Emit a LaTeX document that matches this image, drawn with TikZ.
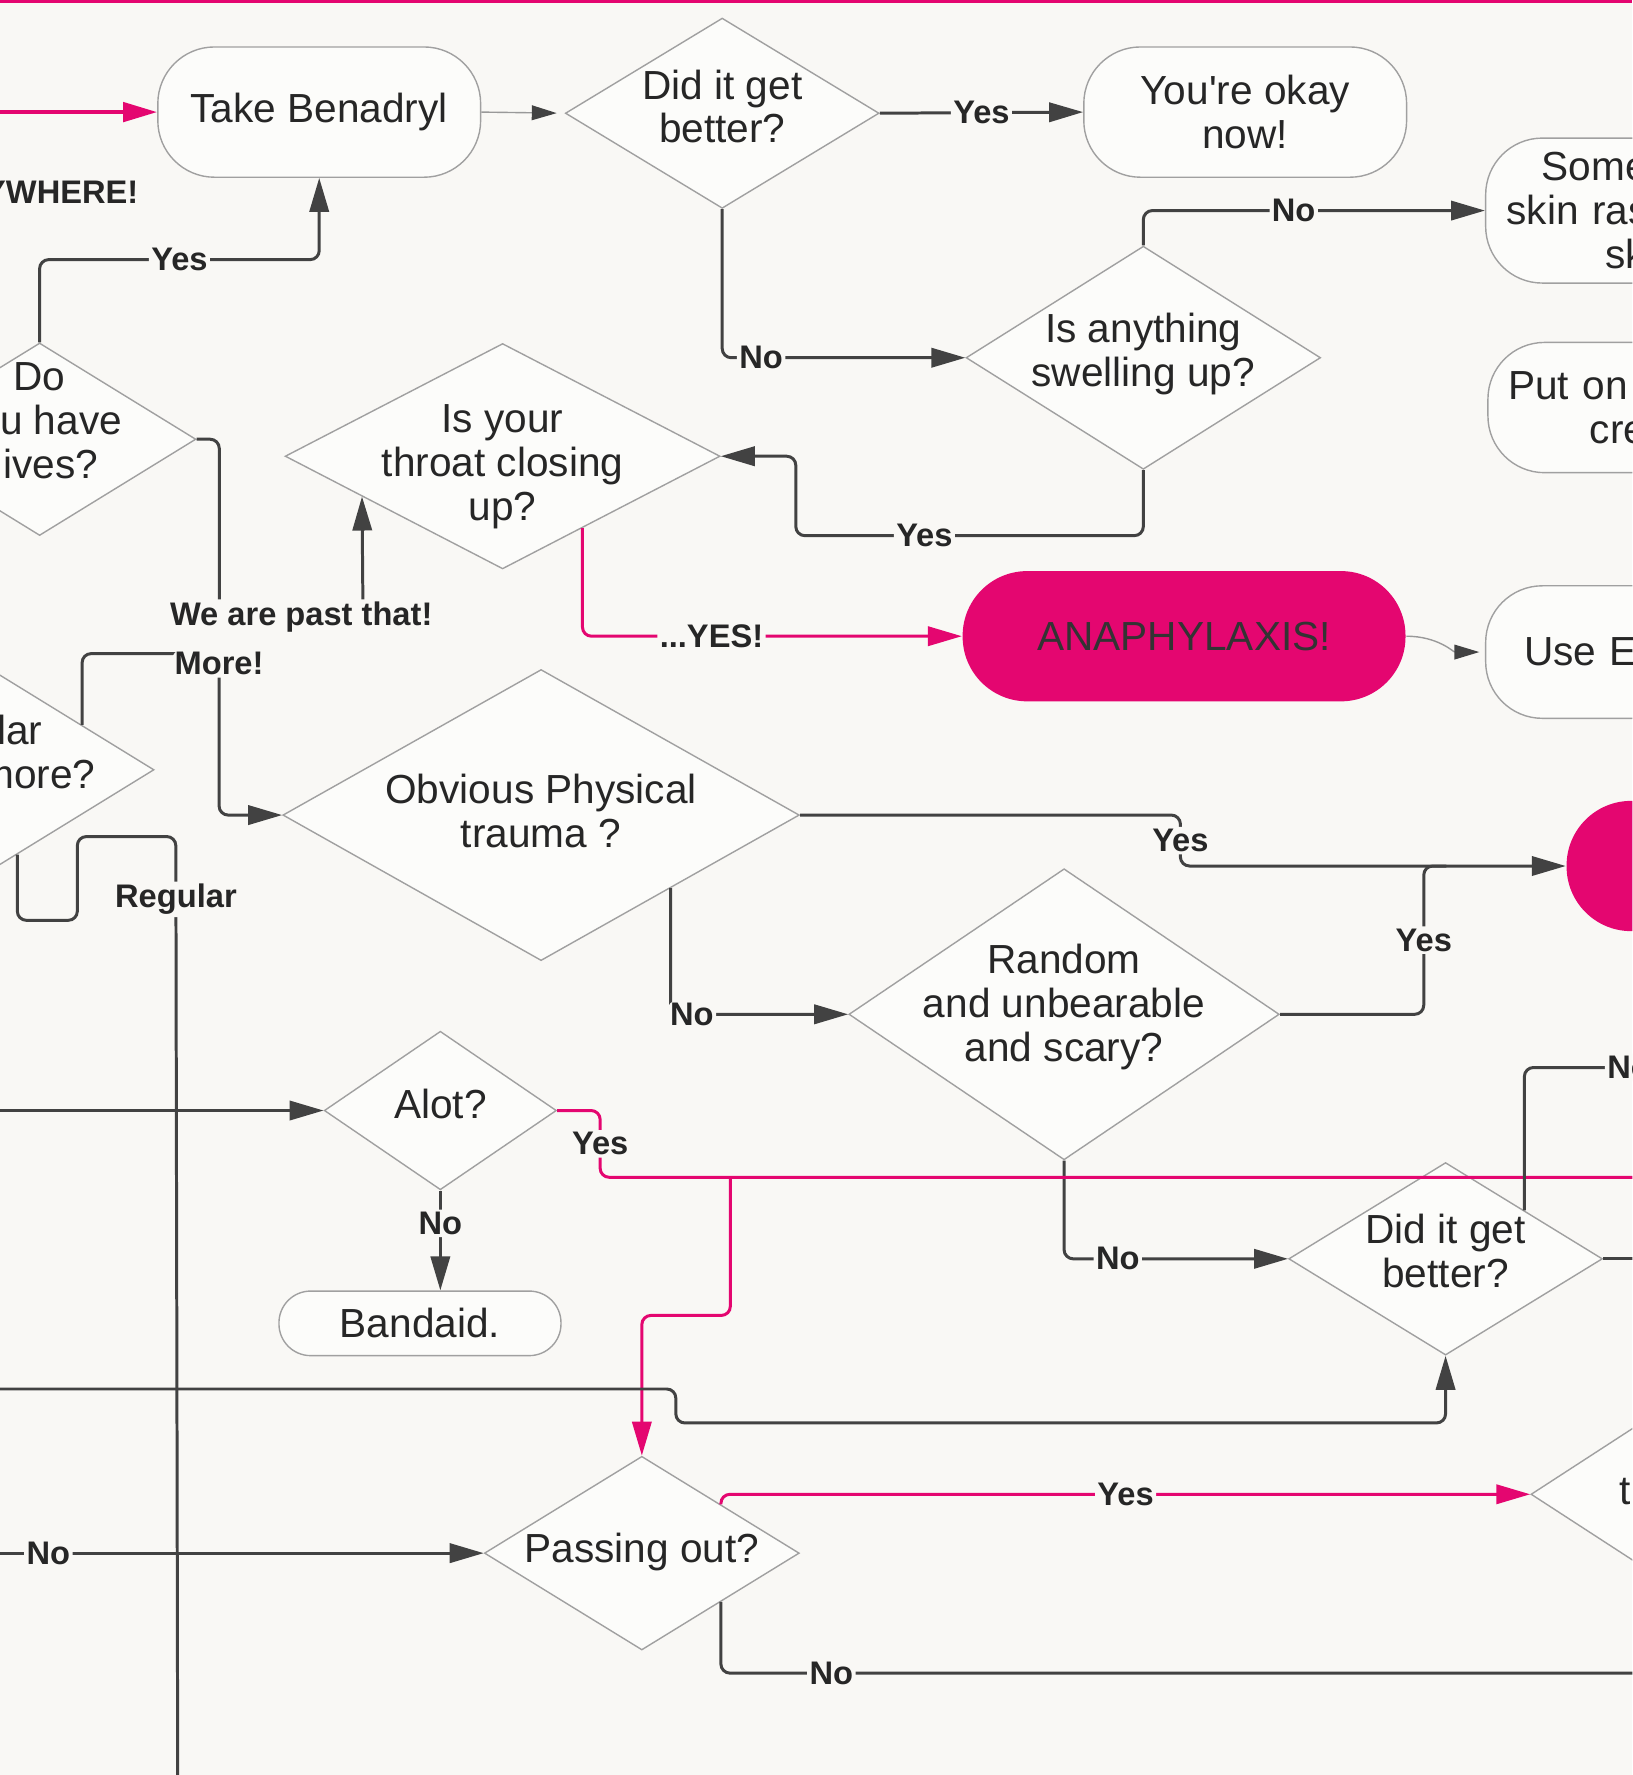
\documentclass[tikz,border=0pt]{standalone}
\usepackage{fontspec}
\setmainfont{Liberation Sans}
\usetikzlibrary{arrows.meta,positioning,shapes.geometric}
\definecolor{paper}{RGB}{249,248,245}
\definecolor{boxfill}{RGB}{252,252,250}
\definecolor{boxline}{RGB}{160,160,160}
\definecolor{ink}{RGB}{66,66,66}
\definecolor{hotpink}{RGB}{228,6,112}
\newcommand{\dtext}[2][-0.08cm]{\makebox[0pt]{\smash{\raisebox{#1}{\begin{tabular}{@{}c@{}}#2\end{tabular}}}}}

\begin{document}
\begin{tikzpicture}[
    x=0.01cm, y=-0.01cm,
    font=\fontsize{10.2}{11}\selectfont,
    term/.style={draw=boxline, line width=0.35pt, fill=boxfill, rounded corners=0.5cm, align=center, minimum width=2.85cm, minimum height=1.15cm, text=black!85},
    dec/.style={draw=boxline, line width=0.35pt, fill=boxfill, diamond, inner sep=0pt, text=black!85},
    alarm/.style={fill=hotpink, rounded corners=0.57cm, minimum height=1.15cm, text=black!80},
    line/.style={-{Triangle[length=0.3cm,width=0.17cm]}, draw=ink, line width=0.75pt, rounded corners=0.08cm},
    hotline/.style={line, draw=hotpink},
    plain/.style={draw=ink, line width=0.75pt, rounded corners=0.08cm},
    hotplain/.style={plain, draw=hotpink},
    thinline/.style={-{Triangle[length=0.22cm,width=0.13cm,color=ink]}, draw=black!40, line width=0.35pt, shorten >=0.07cm},
    lbl/.style={font=\fontsize{8.2}{9}\selectfont\bfseries, fill=paper, inner sep=0.6pt, text=black!85}
]
    \useasboundingbox (0,0) rectangle (1442,1568);
    \clip (0,0) rectangle (1442,1568);
    \fill[paper] (0,0) rectangle (1442,1568);

    \node[term] (benadryl) at (282,99) {Take Benadryl};
    \node[dec, minimum width=2.77cm, minimum height=1.68cm] (better) at (638,100) {\dtext{Did it get\\better?}};
    \node[term] (okay) at (1100,99) {You\textquotesingle re okay\\now!};
    \node[term, minimum height=1.28cm, align=left, text width=2.48cm] (rash) at (1455,186) {\hspace*{0.31cm}Some\\skin ras\\\hspace*{0.87cm}sk};
    \node[term, align=left, text width=2.49cm] (cream) at (1457,360) {Put on\\\hspace*{0.72cm}cre};
    \node[term, minimum height=1.17cm, align=left, text width=2.17cm] (epipen) at (1455,576) {Use E};
    \node[alarm, minimum width=3.91cm] (anaph) at (1046,562) {ANAPHYLAXIS!};
    \node[alarm, minimum width=3.9cm] (redbig) at (1579,765) {};

    \node[dec, minimum width=3.13cm, minimum height=1.97cm] (swell) at (1010,316) {\dtext[-0.07cm]{Is anything\\swelling up?}};
    \node[dec, minimum width=3.84cm, minimum height=1.99cm] (throat) at (444,403) {\dtext[-0.19cm]{Is your\\throat closing\\up?}};
    \node[dec, minimum width=2.76cm, minimum height=1.7cm] (hives) at (35,388) {\dtext[0.03cm]{Do\\you have\\hives?}};
    \node[dec, minimum width=2.76cm, minimum height=1.7cm] (regq) at (-2,680) {};
    \node[anchor=east, align=right, inner sep=0pt, text=black!85] (regqt) at (85,664) {lar\rule{0.47cm}{0pt}\\more?};
    \node[dec, minimum width=4.56cm, minimum height=2.57cm] (trauma) at (478,720) {\dtext[-0.1cm]{Obvious Physical\\trauma ?}};
    \node[dec, minimum width=3.8cm, minimum height=2.57cm] (random) at (940,896) {\dtext[-0.04cm]{Random\\and unbearable\\and scary?}};
    \node[dec, minimum width=2.05cm, minimum height=1.4cm] (alot) at (389,981) {\dtext{Alot?}};
    \node[term, minimum width=2.49cm, minimum height=0.57cm, rounded corners=0.28cm] (bandaid) at (371,1169) {Bandaid.};
    \node[dec, minimum width=2.77cm, minimum height=1.7cm] (better2) at (1277,1112) {\dtext[-0.07cm]{Did it get\\better?}};
    \node[dec, minimum width=2.78cm, minimum height=1.71cm] (pass) at (567,1372) {\dtext[-0.09cm]{Passing out?}};
    \node[dec, minimum width=2.77cm, minimum height=1.8cm] (next) at (1491,1320) {};
    \node[anchor=west, inner sep=0pt, text=black!85] (nextt) at (1430,1318) {t};

    \node[lbl, anchor=east] (anywhere) at (125,170) {YWHERE!};

    \coordinate (topL) at (0,1);
    \coordinate (topR) at (1442,1);
    \coordinate (inBen) at (0,99);
    \coordinate (inAlot) at (0,981);
    \coordinate (inBetter) at (0,1227);
    \coordinate (inPass) at (0,1372);
    \coordinate (regout) at (157,1580);
    \coordinate (outYes) at (1450,1040);
    \coordinate (outNo) at (1450,1478);
    \coordinate (outNo2) at (1450,943);
    \coordinate (outBetter) at (1450,1112);

    \draw[hotplain] (topL) -- (topR);
    \draw[hotline, line width=1pt] (inBen) -- (benadryl.west);
    \draw[thinline] (benadryl.east) -- (better.west);
    \draw[line] (better.east) -- node[lbl]{Yes} (okay.west);
    \draw[line] (better.south) |- node[lbl, pos=0.58]{No} (swell.west);
    \draw[line] (swell.north) |- node[lbl, pos=0.72]{No} (rash.west);
    \draw[line] (swell.south) -- ++(0,58) -- node[lbl, pos=0.63]{Yes} ++(-307,0) |- (throat.east);
    \draw[hotline] (throat.-42) |- node[lbl, pos=0.67]{...YES!} (anaph.west);
    \draw[thinline, shorten >=0.05cm] (anaph.east) to[out=0, in=180] (epipen.west);
    \draw[line] (hives.north) -- ++(0,-73) -| node[lbl, pos=0.25]{Yes} (benadryl.south);
    \draw[line] (hives.east) -- ++(20,0) -- ++(0,157) -- node[lbl, pos=0.57]{We are past that!} ++(127,0) -- (throat.196);
    \draw[line] (regq.28) -- ++(0,-63) -- node[lbl, pos=1, yshift=-0.09cm]{More!} ++(121,0) |- (trauma.west);
    \draw[plain] (regq.-77) -- ++(0,58) -- ++(53,0) -- ++(0,-74) -- ++(87,0) -- node[lbl, pos=0.066]{Regular} (regout);
    \draw[line] (trauma.east) -- ++(336,0) -- node[lbl]{Yes} ++(0,45) -- (redbig.west);
    \draw[plain] (random.east) -- ++(127,0) -- node[lbl]{Yes} ++(0,-131) -- ++(20,0);
    \draw[line] (trauma.south east) |- node[lbl, pos=0.56]{No} (random.west);
    \draw[line] (random.south) |- node[lbl, pos=0.62]{No} (better2.west);
    \draw[line] (inAlot) -- (alot.west);
    \draw[line] (alot.south) -- node[lbl, pos=0.33]{No} (alot.south |- bandaid.north);
    \draw[hotplain] (alot.east) -- ++(38,0) -- node[lbl]{Yes} ++(0,59) -- ++(115,0) coordinate (fork) -- (outYes);
    \draw[hotline] (fork) -- ++(0,122) -| (pass.north);
    \draw[line] (inBetter) -- ++(597,0) -- ++(0,30) -| (better2.south);
    \draw[plain] (better2.north east) |- node[lbl, pos=0.947]{No} (outNo2);
    \draw[plain] (better2.east) -- (outBetter);
    \draw[line] (inPass) -- node[lbl, pos=0.1]{No} (pass.west);
    \draw[hotline] (pass.north east) |- node[lbl, pos=0.75]{Yes} (next.west);
    \draw[plain] (pass.south east) |- node[lbl, pos=0.56]{No} (outNo);
\end{tikzpicture}
\end{document}
